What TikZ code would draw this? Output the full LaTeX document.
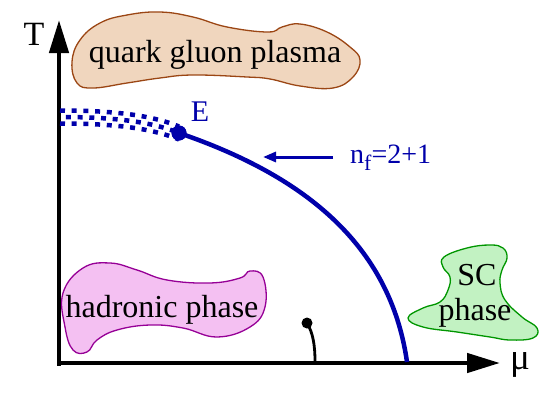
\documentclass[tikz,border=0pt]{standalone}
\usepackage{fontspec}
\setmainfont{Liberation Serif}
\usetikzlibrary{arrows.meta}
\definecolor{lineblue}{RGB}{0,0,170}
\definecolor{qgpfill}{RGB}{240,214,190}
\definecolor{qgpline}{RGB}{155,70,20}
\definecolor{hadfill}{RGB}{244,192,242}
\definecolor{hadline}{RGB}{150,0,150}
\definecolor{scfill}{RGB}{194,242,194}
\definecolor{scline}{RGB}{0,150,0}
\begin{document}
\begin{tikzpicture}[x=1pt,y=1pt]
\tikzstyle{every node}+=[inner sep=0pt]
\tikzstyle{blobtext}=[font=\fontsize{32}{34}\selectfont]
\tikzstyle{axis}=[line width=4.5pt, -{Triangle[length=33pt,width=19pt]}]
\tikzstyle{critline}=[lineblue, line width=4.5pt]
\tikzstyle{checker}=[lineblue, line width=4.5pt, dash pattern=on 5pt off 6.7pt]
\useasboundingbox (0,0) rectangle (545,-404);
% phase blobs
\filldraw[fill=qgpfill, draw=qgpline, line width=1.3pt] plot[smooth cycle, tension=0.7] coordinates {(72,-62) (80,-40) (100,-23) (127,-15) (160,-12) (193,-17) (227,-27) (268,-32) (282,-27) (300,-24) (327,-32) (350,-47) (360,-60) (353,-77) (333,-88) (300,-86) (270,-79) (247,-77) (193,-75) (160,-78) (127,-83) (93,-88) (77,-83)};
\node[blobtext, anchor=base] (qgp) at (215,-63) {quark gluon plasma};
\filldraw[fill=hadfill, draw=hadline, line width=1.3pt] plot[smooth cycle, tension=0.7] coordinates {(63,-293) (83,-268) (110,-263) (137,-270) (167,-280) (210,-283) (240,-278) (250,-271) (263,-277) (265,-307) (250,-327) (217,-337) (183,-328) (150,-325) (117,-330) (97,-340) (87,-352) (73,-350) (65,-327)};
\node[blobtext, anchor=base] (had) at (162,-317) {hadronic phase};
\filldraw[fill=scfill, draw=scline, line width=1.3pt] plot[smooth cycle, tension=0.7] coordinates {(408,-318) (423,-308) (440,-302) (448,-290) (450,-277) (443,-267) (444,-257) (467,-248) (490,-245) (503,-248) (507,-258) (502,-270) (500,-283) (505,-300) (522,-317) (537,-328) (533,-338) (510,-340) (490,-337) (457,-332) (423,-327)};
\node[blobtext, anchor=base] (scname) at (477,-285) {SC};
\node[blobtext, anchor=base] (scphase) at (475,-320) {phase};
% axes
\coordinate (O) at (59,-363);
\coordinate (Tend) at (59,-20);
\coordinate (muend) at (500,-363);
\draw[axis] (57,-363) -- (muend);
\draw[axis] (59,-365.5) -- (Tend);
\node[font=\fontsize{34}{36}\selectfont] (Tlab) at (34,-34) {T};
\node[font=\fontsize{37}{40}\selectfont] (mulab) at (520,-365) {μ};
% crossover and critical line
\node[circle, fill=lineblue, minimum size=15pt] (E) at (179,-133) {};
\coordinate (xstart) at (60,-117);
\draw[checker, transform canvas={yshift=6.5pt}] (xstart) .. controls (110,-117) and (150,-121) .. (E.center);
\draw[checker, dash phase=5.8pt] (xstart) .. controls (110,-117) and (150,-121) .. (E.center);
\draw[checker, transform canvas={yshift=-6.5pt}] (xstart) .. controls (110,-117) and (150,-121) .. (E.center);
\coordinate (mucrit) at (407,-362);
\draw[critline] (E.center) .. controls (302,-175) and (390,-243) .. (mucrit);
\node[circle, fill=lineblue, minimum size=15pt] at (E) {};
\node[lineblue, font=\fontsize{30}{32}\selectfont] (Elab) at (200,-112) {E};
\node[lineblue, font=\fontsize{28}{30}\selectfont, anchor=base west] (nf) at (350,-163) {n\raisebox{-0.28em}{\fontsize{22}{22}\selectfont f}=2+1};
\coordinate (nftip) at (263,-157);
\draw[lineblue, line width=3pt, -{Triangle[length=13pt,width=10pt]}] ([xshift=-17pt]nf.west |- nftip) -- (nftip);
% small pin
\node[circle, fill, minimum size=11pt] (pin) at (307,-323) {};
\coordinate (pinfoot) at (315,-362);
\draw[line width=2.8pt] (pin.center) .. controls (313,-333) and (315,-345) .. (pinfoot);
\end{tikzpicture}
\end{document}
